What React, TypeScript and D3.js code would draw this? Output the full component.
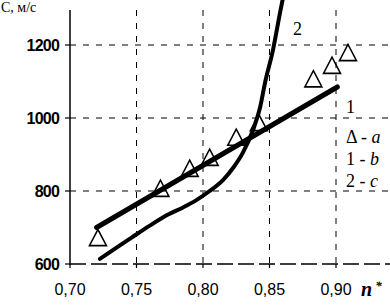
import React, { useRef, useEffect } from 'react';
import * as d3 from 'd3';

// experimental points (a)
const pointsA: [number, number][] = [
  [0.721, 665], [0.768, 800], [0.79, 855], [0.805, 885], [0.825, 940],
  [0.842, 980], [0.883, 1100], [0.897, 1137], [0.909, 1172]
];
// straight line 1 (b)
const lineB: [number, number][] = [[0.72, 700], [0.901, 1085]];
// curve 2 (c)
const curveC: [number, number][] = [
  [0.7225, 614], [0.735, 645], [0.747, 674], [0.76, 705], [0.773, 734],
  [0.785, 755], [0.795, 775], [0.805, 800], [0.815, 830], [0.823, 865],
  [0.83, 905], [0.8376, 967], [0.843, 1030], [0.8466, 1096], [0.8526, 1186],
  [0.8579, 1288], [0.861, 1345]
];
const xTicks = [0.7, 0.75, 0.8, 0.85, 0.9];
const yTicks = [600, 800, 1000, 1200];
const legendItems = [['Δ', 'a'], ['1', 'b'], ['2', 'c']];

const W = 390;
const H = 306;

const App: React.FC = () => {
  const ref = useRef<SVGSVGElement | null>(null);

  useEffect(() => {
    if (!ref.current) return;
    const svg = d3.select(ref.current);
    svg.selectAll('*').remove();

    const x = d3.scaleLinear().domain([0.7, 0.9]).range([70, 336]);
    const y = d3.scaleLinear().domain([600, 1200]).range([264, 45]);
    const fmt = (v: number) => v.toFixed(2).replace('.', ',');

    svg.append('rect').attr('width', W).attr('height', H).attr('fill', '#fff');

    // grid
    svg.append('g')
      .selectAll('line')
      .data(yTicks.filter(v => v > 600))
      .join('line')
      .attr('x1', 70).attr('x2', 390)
      .attr('y1', d => y(d)).attr('y2', d => y(d))
      .attr('stroke', '#000').attr('stroke-width', 1)
      .attr('stroke-dasharray', '6 7');

    svg.append('g')
      .selectAll('line')
      .data(xTicks.filter(v => v > 0.7))
      .join('line')
      .attr('x1', d => x(d)).attr('x2', d => x(d))
      .attr('y1', 10).attr('y2', 264)
      .attr('stroke', '#000').attr('stroke-width', 1)
      .attr('stroke-dasharray', '6 7');

    // axes
    svg.append('line')
      .attr('x1', 70).attr('x2', 70).attr('y1', 10).attr('y2', 265)
      .attr('stroke', '#000').attr('stroke-width', 1.5);
    svg.append('line')
      .attr('x1', 70).attr('x2', 390).attr('y1', 264).attr('y2', 264)
      .attr('stroke', '#000').attr('stroke-width', 1.5)
      .attr('stroke-dasharray', '16 5');

    const yAxis = svg.append('g');
    yAxis.selectAll('line')
      .data(yTicks)
      .join('line')
      .attr('x1', 65).attr('x2', 70)
      .attr('y1', d => y(d)).attr('y2', d => y(d))
      .attr('stroke', '#000').attr('stroke-width', 1.2);
    yAxis.selectAll('text')
      .data(yTicks)
      .join('text')
      .attr('x', 59).attr('y', d => y(d) + 6)
      .attr('text-anchor', 'end')
      .attr('font-family', 'Liberation Sans, Arial, sans-serif')
      .attr('font-size', 16)
      .attr('font-weight', 'bold')
      .attr('letter-spacing', -0.8)
      .text(d => d);

    const xAxis = svg.append('g');
    xAxis.selectAll('line')
      .data(xTicks)
      .join('line')
      .attr('x1', d => x(d)).attr('x2', d => x(d))
      .attr('y1', 264).attr('y2', 268)
      .attr('stroke', '#000').attr('stroke-width', 1.2);
    xAxis.selectAll('text')
      .data(xTicks)
      .join('text')
      .attr('x', d => x(d)).attr('y', 295)
      .attr('text-anchor', 'middle')
      .attr('font-family', 'Liberation Sans, Arial, sans-serif')
      .attr('font-size', 16)
      .text(d => fmt(d));

    // axis titles
    svg.append('text')
      .attr('x', 1).attr('y', 12)
      .attr('font-family', 'Liberation Serif, Times New Roman, serif')
      .attr('font-size', 14)
      .text('C, м/с');
    svg.append('text')
      .attr('x', 361).attr('y', 296)
      .attr('font-family', 'Liberation Serif, Times New Roman, serif')
      .attr('font-size', 20)
      .attr('font-style', 'italic')
      .attr('font-weight', 'bold')
      .text('n')
      .append('tspan')
      .attr('dx', 3).attr('dy', -6)
      .attr('font-size', 13)
      .text('*');

    // curve 2
    const line = d3.line<[number, number]>()
      .x(d => x(d[0]))
      .y(d => y(d[1]));
    svg.append('path')
      .datum(curveC)
      .attr('fill', 'none')
      .attr('stroke', '#000')
      .attr('stroke-width', 4)
      .attr('stroke-linecap', 'round')
      .attr('d', line.curve(d3.curveMonotoneX));

    // line 1
    svg.append('path')
      .datum(lineB)
      .attr('fill', 'none')
      .attr('stroke', '#000')
      .attr('stroke-width', 5)
      .attr('stroke-linecap', 'round')
      .attr('d', d3.line<[number, number]>().x(d => x(d[0])).y(d => y(d[1])));

    // triangles
    const tri = d3.symbol().type(d3.symbolTriangle).size(125);
    svg.append('g')
      .selectAll('path')
      .data(pointsA)
      .join('path')
      .attr('transform', d => `translate(${x(d[0])},${y(d[1])}) scale(1,1.1)`)
      .attr('d', tri)
      .attr('fill', 'none')
      .attr('stroke', '#000')
      .attr('stroke-width', 1.5);

    // curve labels
    const serif = 'Liberation Serif, Times New Roman, serif';
    svg.append('text')
      .attr('x', 293).attr('y', 35)
      .attr('font-family', serif).attr('font-size', 18)
      .text('2');
    svg.append('text')
      .attr('x', 346).attr('y', 113)
      .attr('font-family', serif).attr('font-size', 18)
      .text('1');

    // legend
    const leg = svg.append('g');
    legendItems.forEach(([sym, key], i) => {
      const t = leg.append('text')
        .attr('x', 346).attr('y', 143 + i * 22)
        .attr('font-family', serif).attr('font-size', 18);
      t.append('tspan').text(sym + ' - ');
      t.append('tspan').attr('font-style', 'italic').text(key);
    });
  }, []);

  return (
    <svg
      ref={ref}
      width={W}
      height={H}
      viewBox={`0 0 ${W} ${H}`}
      style={{ position: 'absolute', left: 0, top: 0 }}
    />
  );
};

export default App;
